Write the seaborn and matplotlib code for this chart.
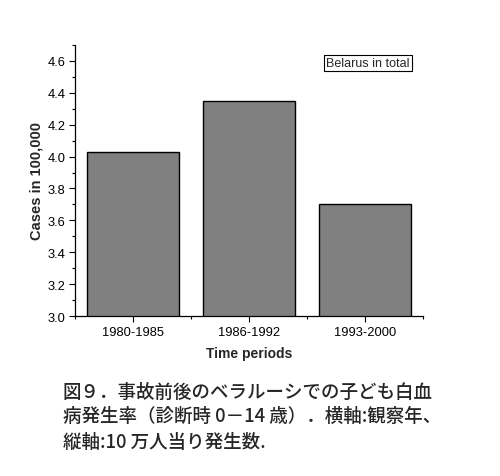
import numpy as np
import pandas as pd
import matplotlib
matplotlib.use("Agg")
import matplotlib.pyplot as plt
import seaborn as sns
from matplotlib.ticker import MultipleLocator, FixedLocator

# データ
periods = ["1980-1985", "1986-1992", "1993-2000"]
cases = [4.03, 4.35, 3.70]
y_ticks = [3.0, 3.2, 3.4, 3.6, 3.8, 4.0, 4.2, 4.4, 4.6]
caption_lines = [
    "図９．事故前後のベラルーシでの子ども白血",
    "病発生率（診断時 0－14 歳）．横軸:観察年、",
    "縦軸:10 万人当り発生数.",
]

df = pd.DataFrame({"period": periods, "cases": cases})

sns.set_style("ticks")
plt.rcParams["font.family"] = ["Liberation Sans", "DejaVu Sans"]

fig = plt.figure(figsize=(5, 4.77), dpi=100)
ax = fig.add_axes([0.15, 0.3354, 0.696, 0.5682])

sns.barplot(data=df, x="period", y="cases", color="#808080",
            edgecolor="black", linewidth=1.0, width=0.8, saturation=1, ax=ax)

ax.set_ylim(3.0, 4.7)
ax.set_xlim(-0.5, 2.5)
ax.set_yticks(y_ticks)
ax.set_yticklabels([f"{v:.1f}" for v in y_ticks])
ax.yaxis.set_minor_locator(MultipleLocator(0.1))
ax.xaxis.set_minor_locator(FixedLocator([-0.5, 0.5, 1.5, 2.5]))

ax.tick_params(axis="both", which="major", direction="out", length=4,
               width=0.8, labelsize=9.3, colors="black", pad=3)
ax.tick_params(axis="both", which="minor", direction="out", length=2.5,
               width=0.8, colors="black")

sns.despine(ax=ax)
for s in ["left", "bottom"]:
    ax.spines[s].set_linewidth(0.9)
    ax.spines[s].set_color("black")

ax.set_xlabel("Time periods", fontsize=10, fontweight="bold", labelpad=6)
ax.set_ylabel("Cases in 100,000", fontsize=10.5, fontweight="bold", labelpad=3)

ax.text(0.842, 0.934, "Belarus in total", transform=ax.transAxes,
        ha="center", va="center", fontsize=9,
        bbox=dict(boxstyle="square,pad=0.15", facecolor="white",
                  edgecolor="black", linewidth=0.8))

# キャプション
cap_y = [392, 416, 442]
for line, yy in zip(caption_lines, cap_y):
    fig.text(0.126, 1 - yy / 477, line, ha="left", va="center",
             fontsize=13.3, fontweight="medium",
             family=["Noto Sans CJK JP", "DejaVu Sans"])

fig.savefig("out.png", dpi=100, facecolor="white")
